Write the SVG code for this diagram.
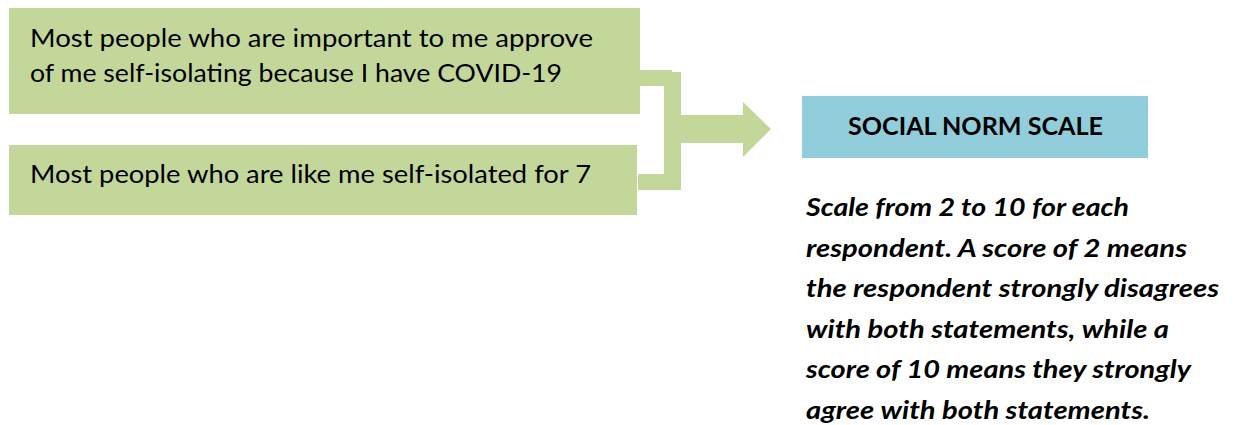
<svg xmlns="http://www.w3.org/2000/svg" width="1235" height="425" viewBox="0 0 1235 425">
  <style>
    .green { fill: #C4D79B; }
    .blue { fill: #92CDDC; }
    .stmt { font-family: Lato, "Open Sans", "Liberation Sans", sans-serif; font-size: 25.5px; fill: #000; }
    .title { font-family: Lato, "Open Sans", "Liberation Sans", sans-serif; font-size: 24px; font-weight: bold; fill: #000; }
    .note { font-family: Lato, "Open Sans", "Liberation Sans", sans-serif; font-size: 25px; font-weight: bold; font-style: italic; fill: #000; }
  </style>
  <rect width="1235" height="425" fill="#ffffff"/>

  <g id="connectors">
    <polygon class="green" points="640,70 672,70 672,72 681,72 681,190 638,190 638,174 664,174 664,86 640,86"/>
    <polygon class="green" points="681,115 743,115 743,102 771,129 743,157 743,143 681,143"/>
  </g>

  <g id="node-important">
    <rect class="green" x="9" y="8" width="631" height="106"/>
    <text class="stmt" x="30" y="47" textLength="563" lengthAdjust="spacingAndGlyphs">Most people who are important to me approve</text>
    <text class="stmt" x="30" y="82" textLength="532" lengthAdjust="spacingAndGlyphs">of me self-isolating because I have COVID-19</text>
  </g>

  <g id="node-like-me">
    <rect class="green" x="9" y="145" width="628" height="70"/>
    <text class="stmt" x="30" y="183" textLength="561" lengthAdjust="spacingAndGlyphs">Most people who are like me self-isolated for 7</text>
  </g>

  <g id="node-scale">
    <rect class="blue" x="802" y="96" width="346" height="62"/>
    <text class="title" x="848" y="135" textLength="255" lengthAdjust="spacingAndGlyphs">SOCIAL NORM SCALE</text>
  </g>

  <g id="note">
    <text class="note" x="806" y="216" textLength="323" lengthAdjust="spacingAndGlyphs">Scale from 2 to 10 for each</text>
    <text class="note" x="806" y="257" textLength="381" lengthAdjust="spacingAndGlyphs">respondent. A score of 2 means</text>
    <text class="note" x="806" y="297" textLength="413" lengthAdjust="spacingAndGlyphs">the respondent strongly disagrees</text>
    <text class="note" x="806" y="338" textLength="363" lengthAdjust="spacingAndGlyphs">with both statements, while a</text>
    <text class="note" x="806" y="378" textLength="385" lengthAdjust="spacingAndGlyphs">score of 10 means they strongly</text>
    <text class="note" x="806" y="419" textLength="344" lengthAdjust="spacingAndGlyphs">agree with both statements.</text>
  </g>
</svg>
